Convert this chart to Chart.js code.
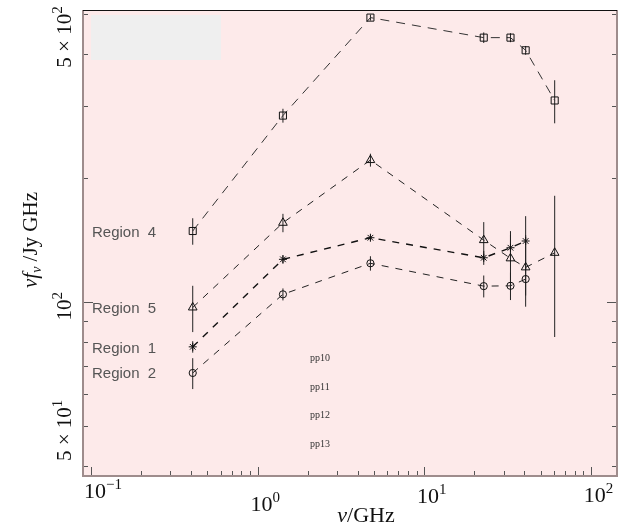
<!DOCTYPE html>
<html><head><meta charset="utf-8">
<script src="https://cdn.jsdelivr.net/npm/chart.js@4"></script>
<style>html,body{margin:0;padding:0;background:#fff;overflow:hidden}canvas{display:block}</style>
</head><body>
<canvas id="c" width="626" height="526"></canvas>
<script>
// ---- data ----
const frequencies = [0.408, 1.42, 4.76, 22.8, 33.0, 40.7, 60.8];   // GHz
const region4 = [149, 284, 491, 439, 439, 409, 309];
const region4Err = [11, 11, 8, 13, 11, 10, 37];
const region5 = [97.2, 156, 221.5, 141.6, 127.9, 121.6, 131.9];
const region5Err = [12.5, 8, 8, 15, 21, 24, 49.5];
const region1 = [78.0, 127.2, 143.5, 128.3, 135.7, 140.9, null];
const region1Err = [2.5, 3, 2, 5, 10, 21, null];
const region2 = [67.4, 104.6, 124.4, 109.5, 109.7, 113.9, null];
const region2Err = [5.8, 3.5, 5, 6.7, 8.4, 10, null];
const seriesNames = ['Region  4', 'Region  5', 'Region  1', 'Region  2'];
const ppLabels = ['pp10', 'pp11', 'pp12', 'pp13'];
const xTickExponents = [-1, 0, 1, 2];
const yTickValues = [50, 100, 500];
const yTickText = [['5 \u00d7 10', '1'], ['10', '2'], ['5 \u00d7 10', '2']];

const seriesValues = [region4, region5, region1, region2];
const seriesErrs = [region4Err, region5Err, region1Err, region2Err];
const styles = [
  {pointStyle: 'rect', radius: 5, color: '#333', width: 1, dash: [9, 7]},
  {pointStyle: 'triangle', radius: 5, color: '#222', width: 1, dash: [7, 7]},
  {pointStyle: 'star', radius: 4, color: '#111', width: 1.4, dash: [7, 7]},
  {pointStyle: 'circle', radius: 3.6, color: '#222', width: 1, dash: [7, 7]}
];

function toPoints(vals) {
  const pts = [];
  vals.forEach((v, i) => { if (v !== null) pts.push({x: frequencies[i], y: v}); });
  return pts;
}

const datasets = seriesValues.map((vals, i) => ({
  label: seriesNames[i],
  data: toPoints(vals),
  showLine: true,
  borderColor: styles[i].color,
  borderWidth: styles[i].width,
  borderDash: styles[i].dash,
  pointStyle: styles[i].pointStyle,
  pointRadius: styles[i].radius,
  pointBorderColor: '#111',
  pointBorderWidth: 1,
  pointBackgroundColor: 'rgba(0,0,0,0)',
  fill: false,
  tension: 0
}));

function drawParts(ctx, parts, x, y, align) {
  let total = 0;
  parts.forEach(p => { ctx.font = p[1]; total += ctx.measureText(p[0]).width; });
  let cx = align === 'center' ? x - total / 2 : x;
  parts.forEach(p => {
    ctx.font = p[1];
    ctx.fillText(p[0], cx, y + (p[2] || 0));
    cx += ctx.measureText(p[0]).width;
  });
}

const deco = {
  id: 'deco',
  beforeDraw(chart) {
    const {ctx, chartArea: a} = chart;
    ctx.save();
    ctx.fillStyle = '#fff';
    ctx.fillRect(0, 0, chart.width, chart.height);
    ctx.fillStyle = '#fdeaea';
    ctx.fillRect(a.left, a.top, a.right - a.left, a.bottom - a.top);
    ctx.fillStyle = '#efefef';
    ctx.fillRect(a.left + 8, a.top + 5, 130, 45);
    ctx.restore();
  },
  beforeDatasetsDraw(chart) {
    const {ctx, chartArea: a, scales: {x, y}} = chart;
    ctx.save();
    ctx.beginPath();
    ctx.rect(a.left, a.top, a.right - a.left, a.bottom - a.top);
    ctx.clip();
    ctx.strokeStyle = '#222';
    ctx.lineWidth = 1;
    seriesValues.forEach((vals, i) => {
      vals.forEach((v, j) => {
        const e = seriesErrs[i][j];
        if (v === null || e === null) return;
        const px = x.getPixelForValue(frequencies[j]);
        ctx.beginPath();
        ctx.moveTo(px, y.getPixelForValue(v - e));
        ctx.lineTo(px, y.getPixelForValue(v + e));
        ctx.stroke();
      });
    });
    ctx.restore();
  },
  afterDraw(chart) {
    const {ctx, chartArea: a, scales: {x, y}} = chart;
    ctx.save();
    // ticks
    ctx.strokeStyle = '#555';
    ctx.lineWidth = 1;
    for (let k = -2; k <= 2; k++) {
      for (let m = 1; m <= 9; m++) {
        const v = m * Math.pow(10, k);
        if (v < x.min || v > x.max) continue;
        const px = Math.round(x.getPixelForValue(v)) + 0.5;
        const len = m === 1 ? 9 : 5;
        ctx.beginPath(); ctx.moveTo(px, a.bottom); ctx.lineTo(px, a.bottom - len); ctx.stroke();
      }
    }
    for (let k = 1; k <= 2; k++) {
      for (let m = 1; m <= 9; m++) {
        const v = m * Math.pow(10, k);
        if (v < y.min || v > y.max) continue;
        const py = Math.round(y.getPixelForValue(v)) + 0.5;
        const len = (v === 100) ? 10 : 5;
        ctx.beginPath(); ctx.moveTo(a.left, py); ctx.lineTo(a.left + len, py); ctx.stroke();
        ctx.beginPath(); ctx.moveTo(a.right, py); ctx.lineTo(a.right - len, py); ctx.stroke();
      }
    }
    // frame
    ctx.strokeStyle = '#9e8c8c';
    ctx.lineWidth = 2;
    ctx.beginPath();
    ctx.moveTo(a.left, a.top); ctx.lineTo(a.left, a.bottom); ctx.lineTo(a.right, a.bottom); ctx.lineTo(a.right, a.top);
    ctx.stroke();
    ctx.strokeStyle = '#111';
    ctx.lineWidth = 1;
    ctx.beginPath(); ctx.moveTo(a.left, a.top + 0.5); ctx.lineTo(a.right, a.top + 0.5); ctx.stroke();

    // x tick labels
    ctx.fillStyle = '#111';
    ctx.textAlign = 'left';
    ctx.textBaseline = 'alphabetic';
    const xBase = [498, 511, 503, 502];
    xTickExponents.forEach((k, i) => {
      const px = x.getPixelForValue(Math.pow(10, k));
      const sup = k < 0 ? '\u2212' + (-k) : String(k);
      drawParts(ctx, [['10', '22px "Liberation Serif"', 0], [sup, '15px "Liberation Serif"', -9]], px - 7, xBase[i], 'left');
    });
    // y tick labels (rotated)
    yTickValues.forEach((v, i) => {
      const py = y.getPixelForValue(v);
      const cy = Math.max(py + 4, 37);
      ctx.save();
      ctx.translate(71, cy);
      ctx.rotate(-Math.PI / 2);
      drawParts(ctx, [[yTickText[i][0], '21px "Liberation Serif"', 0], [yTickText[i][1], '15px "Liberation Serif"', -9]], 0, 0, 'center');
      ctx.restore();
    });
    // y title
    ctx.save();
    ctx.translate(37, 240);
    ctx.rotate(-Math.PI / 2);
    drawParts(ctx, [
      ['\u03bd', 'italic 21px "Liberation Serif"', 0],
      ['f', 'italic 21px "Liberation Serif"', 0],
      ['\u03bd', 'italic 14px "Liberation Serif"', 4],
      [' /Jy GHz', '21px "Liberation Serif"', 0]
    ], 0, 0, 'center');
    ctx.restore();
    // x title
    drawParts(ctx, [['\u03bd', 'italic 22px "Liberation Serif"', 0], ['/GHz', '22px "Liberation Serif"', 0]], 366, 522, 'center');

    // region labels
    ctx.fillStyle = '#555';
    ctx.font = '15px "Liberation Sans"';
    const regBase = [237, 313, 353, 378];
    seriesNames.forEach((n, i) => ctx.fillText(n, a.left + 9, regBase[i]));
    // pp labels
    ctx.fillStyle = '#333';
    ctx.font = '10px "Liberation Serif"';
    const ppBase = [361, 390, 418, 447];
    ppLabels.forEach((t, i) => ctx.fillText(t, 310, ppBase[i]));
    ctx.restore();
  }
};

new Chart(document.getElementById('c'), {
  type: 'scatter',
  data: {datasets},
  options: {
    responsive: false,
    animation: false,
    devicePixelRatio: 1,
    layout: {padding: {left: 83, right: 9, top: 10, bottom: 50}},
    plugins: {legend: {display: false}, tooltip: {enabled: false}},
    scales: {
      x: {type: 'logarithmic', min: 0.0895, max: 143.9, display: false},
      y: {type: 'logarithmic', min: 37.9, max: 512.3, display: false}
    }
  },
  plugins: [deco]
});
</script>
</body></html>
